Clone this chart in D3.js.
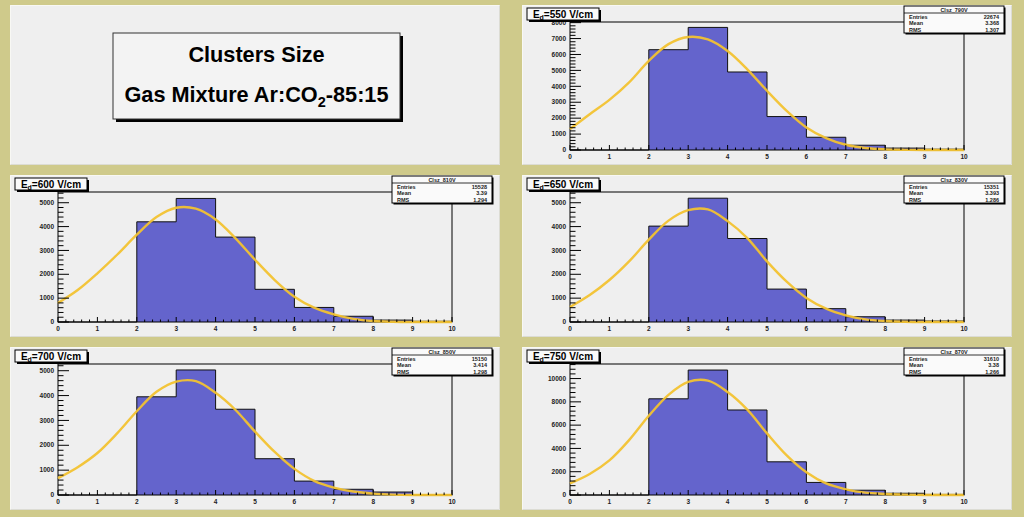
<!DOCTYPE html>
<html><head><meta charset="utf-8">
<script src="https://cdn.jsdelivr.net/npm/d3@7"></script>
<style>body{margin:0;background:#cfca8b;} svg{display:block;}</style>
</head><body><svg id="c" width="1024" height="517"></svg>
<script>
// ---------- data ----------
const titleLine1 = "Clusters Size";
const titleLine2a = "Gas Mixture Ar:CO";
const titleLine2sub = "2";
const titleLine2b = "-85:15";

const fieldLabels = ["=550 V/cm", "=600 V/cm", "=650 V/cm", "=700 V/cm", "=750 V/cm"];
const histNames = ["Clsz_790V", "Clsz_810V", "Clsz_830V", "Clsz_850V", "Clsz_870V"];
const entries = ["22674", "15528", "15351", "15150", "31610"];
const means = ["3.368", "3.39", "3.393", "3.414", "3.38"];
const rmsValues = ["1.307", "1.294", "1.286", "1.298", "1.266"];
const statLabels = ["Entries", "Mean", "RMS"];

const binStarts = [0, 1, 2, 3, 4, 5, 6, 7, 8, 9];
const counts550 = [0, 0, 6300, 7700, 4900, 2100, 800, 300, 120, 50];
const counts600 = [0, 0, 4200, 5180, 3560, 1370, 610, 240, 80, 30];
const counts650 = [0, 0, 4020, 5190, 3500, 1380, 560, 220, 80, 40];
const counts700 = [0, 0, 3950, 5030, 3450, 1460, 560, 230, 120, 10];
const counts750 = [0, 0, 8260, 10730, 7300, 2850, 1080, 410, 150, 50];

const fitX = [0, 0.5, 1, 1.5, 2, 2.5, 3, 3.5, 4, 4.5, 5, 5.5, 6, 6.5, 7, 7.5, 8, 8.5, 9, 9.5, 10];
const fit550 = [1315, 2250, 3150, 4250, 5600, 6650, 7100, 6950, 6220, 5070, 3720, 2460, 1420, 750, 330, 125, 40, 10, 0, 0, 0];
const fit600 = [800, 1340, 2040, 2820, 3660, 4400, 4790, 4750, 4300, 3520, 2610, 1760, 1060, 600, 320, 130, 40, 10, 0, 0, 0];
const fit650 = [630, 1130, 1760, 2540, 3450, 4250, 4690, 4720, 4230, 3520, 2540, 1690, 1010, 560, 280, 110, 40, 10, 0, 0, 0];
const fit700 = [680, 1120, 1690, 2480, 3370, 4150, 4560, 4580, 4110, 3430, 2550, 1730, 1050, 570, 300, 140, 55, 15, 0, 0, 0];
const fit750 = [990, 1800, 2970, 4710, 6800, 8600, 9710, 9820, 8840, 7330, 5290, 3400, 1950, 990, 490, 200, 90, 30, 0, 0, 0];

const yMax = [8040, 5450, 5450, 5270, 11250];
const yTicks550 = [0, 1000, 2000, 3000, 4000, 5000, 6000, 7000, 8000];
const yTicks600 = [0, 1000, 2000, 3000, 4000, 5000];
const yTicks650 = [0, 1000, 2000, 3000, 4000, 5000];
const yTicks700 = [0, 1000, 2000, 3000, 4000, 5000];
const yTicks750 = [0, 2000, 4000, 6000, 8000, 10000];
const xTicks = [0, 1, 2, 3, 4, 5, 6, 7, 8, 9, 10];

const countsAll = [counts550, counts600, counts650, counts700, counts750];
const fitsAll = [fit550, fit600, fit650, fit700, fit750];
const yTicksAll = [yTicks550, yTicks600, yTicks650, yTicks700, yTicks750];

// ---------- layout ----------
const FONT = "'Liberation Sans', Arial, Helvetica, sans-serif";
const colX = [10, 522];
const rowY = [5, 175, 347];
const rowH = [160, 162, 163];
const panelW = 490;
const slots = [[1, 0], [0, 1], [1, 1], [0, 2], [1, 2]];

const svg = d3.select("#c");
svg.append("rect").attr("width", 1024).attr("height", 517).attr("fill", "#cfca8b");

function drawPanel(x, y, w, h) {
  const g = svg.append("g").attr("transform", `translate(${x},${y})`);
  g.append("rect").attr("width", w).attr("height", h).attr("fill", "#efefef");
  g.append("path").attr("d", `M0.5,${h - 0.5}V0.5H${w - 0.5}`).attr("fill", "none").attr("stroke", "#f8f8f4").attr("stroke-width", 1);
  g.append("path").attr("d", `M0.5,${h - 0.5}H${w - 0.5}V0.5`).attr("fill", "none").attr("stroke", "#dcdcd4").attr("stroke-width", 1);
  return g;
}

// Title panel
{
  const g = drawPanel(colX[0], rowY[0], panelW, rowH[0]);
  const bx = 103, by = 28, bw = 287, bh = 86;
  g.append("rect").attr("x", bx + 3).attr("y", by + 3).attr("width", bw).attr("height", bh).attr("fill", "#000");
  g.append("rect").attr("x", bx).attr("y", by).attr("width", bw).attr("height", bh)
    .attr("fill", "#f3f3f3").attr("stroke", "#333").attr("stroke-width", 1);
  g.append("text").attr("x", bx + bw / 2).attr("y", 57).attr("text-anchor", "middle")
    .attr("font-family", FONT).attr("font-weight", "bold").attr("font-size", 21.7).attr("fill", "#000")
    .text(titleLine1);
  const t2 = g.append("text").attr("x", bx + bw / 2).attr("y", 97).attr("text-anchor", "middle")
    .attr("font-family", FONT).attr("font-weight", "bold").attr("font-size", 21.7).attr("fill", "#000");
  t2.append("tspan").text(titleLine2a);
  t2.append("tspan").attr("font-size", 14.5).attr("dy", 5).text(titleLine2sub);
  t2.append("tspan").attr("dy", -5).text(titleLine2b);
}

// Histogram panels
slots.forEach((s, i) => {
  const px = colX[s[0]], py = rowY[s[1]], ph = rowH[s[1]];
  const g = drawPanel(px, py, panelW, ph);
  const L = 48, R = 442, T = 17, B = ph - 15;

  const x = d3.scaleLinear().domain([0, 10]).range([L, R]);
  const y = d3.scaleLinear().domain([0, yMax[i]]).range([B, T]);

  const bins = binStarts.map((b, k) => ({ x: b, v: countsAll[i][k] }));
  bins.push({ x: 10, v: countsAll[i][countsAll[i].length - 1] });

  // filled histogram
  g.append("path").datum(bins)
    .attr("d", d3.area().curve(d3.curveStepAfter).x(d => x(d.x)).y0(y(0)).y1(d => y(d.v)))
    .attr("fill", "#6464cc");
  // outline
  g.append("path").datum(bins)
    .attr("d", d3.line().curve(d3.curveStepAfter).x(d => x(d.x)).y(d => y(d.v)))
    .attr("fill", "none").attr("stroke", "#111").attr("stroke-width", 1);

  // frame
  g.append("rect").attr("x", L).attr("y", T).attr("width", R - L).attr("height", B - T)
    .attr("fill", "none").attr("stroke", "#000").attr("stroke-width", 1);

  // fit curve
  const fit = fitX.map((fx, k) => ({ x: fx, v: fitsAll[i][k] }));
  g.append("path").datum(fit)
    .attr("d", d3.line().curve(d3.curveCatmullRom.alpha(0.5)).x(d => x(d.x)).y(d => y(Math.max(0, d.v))))
    .attr("fill", "none").attr("stroke", "#f2c230").attr("stroke-width", 2.4)
    .attr("stroke-linejoin", "round").attr("opacity", 0.95);

  // x axis ticks (inward)
  const xMinor = d3.range(0, 10.001, 0.2);
  xMinor.forEach(v => {
    const major = Math.abs(v - Math.round(v)) < 1e-6;
    g.append("line").attr("x1", x(v)).attr("x2", x(v)).attr("y1", B).attr("y2", B - (major ? 5 : 2.5))
      .attr("stroke", "#000").attr("stroke-width", 1);
  });
  g.selectAll(".xl").data(xTicks).enter().append("text")
    .attr("x", d => x(d)).attr("y", B + 9).attr("text-anchor", "middle")
    .attr("font-family", FONT).attr("font-size", 6.5).attr("font-weight", "bold").attr("fill", "#222")
    .text(d => d);

  // y axis ticks (inward)
  const yt = yTicksAll[i];
  const step = yt[1] - yt[0];
  const minorStep = step / 5;
  d3.range(0, yMax[i] + 1, minorStep).forEach(v => {
    if (y(v) < T - 0.5) return;
    const major = Math.abs(v / step - Math.round(v / step)) < 1e-6;
    g.append("line").attr("x1", L).attr("x2", L + (major ? 11 : 5.5)).attr("y1", y(v)).attr("y2", y(v))
      .attr("stroke", "#000").attr("stroke-width", 1);
  });
  g.selectAll(".yl").data(yt).enter().append("text")
    .attr("x", L - 4).attr("y", d => y(d) + 2.2).attr("text-anchor", "end")
    .attr("font-family", FONT).attr("font-size", 6.5).attr("font-weight", "bold").attr("fill", "#222")
    .text(d => d);

  // label box "E_d=..."
  const lx = 5, ly = 3, lw = 72, lh = 12;
  g.append("rect").attr("x", lx + 2).attr("y", ly + 2).attr("width", lw).attr("height", lh).attr("fill", "#000");
  g.append("rect").attr("x", lx).attr("y", ly).attr("width", lw).attr("height", lh)
    .attr("fill", "#fafafa").attr("stroke", "#000").attr("stroke-width", 1);
  const lt = g.append("text").attr("x", lx + lw / 2).attr("y", ly + 9.5).attr("text-anchor", "middle")
    .attr("font-family", FONT).attr("font-weight", "bold").attr("font-size", 10).attr("fill", "#000");
  lt.append("tspan").text("E");
  lt.append("tspan").attr("font-size", 7).attr("dy", 2.5).text("d");
  lt.append("tspan").attr("dy", -2.5).text(fieldLabels[i]);

  // stats box
  const sx = 382, sy = 1, sw = 100, sh = 27;
  g.append("rect").attr("x", sx + 1.5).attr("y", sy + 1.5).attr("width", sw).attr("height", sh).attr("fill", "#000");
  g.append("rect").attr("x", sx).attr("y", sy).attr("width", sw).attr("height", sh)
    .attr("fill", "#fafafa").attr("stroke", "#000").attr("stroke-width", 1);
  g.append("line").attr("x1", sx).attr("x2", sx + sw).attr("y1", sy + 7).attr("y2", sy + 7)
    .attr("stroke", "#000").attr("stroke-width", 0.8);
  g.append("text").attr("x", sx + sw / 2).attr("y", sy + 5.6).attr("text-anchor", "middle")
    .attr("font-family", FONT).attr("font-size", 5.5).attr("font-weight", "bold").attr("fill", "#222")
    .text(histNames[i]);
  const vals = [entries[i], means[i], rmsValues[i]];
  statLabels.forEach((lab, k) => {
    const yy = sy + 12.5 + k * 6.6;
    g.append("text").attr("x", sx + 5).attr("y", yy)
      .attr("font-family", FONT).attr("font-size", 5.5).attr("font-weight", "bold").attr("fill", "#222").text(lab);
    g.append("text").attr("x", sx + sw - 5).attr("y", yy).attr("text-anchor", "end")
      .attr("font-family", FONT).attr("font-size", 5.5).attr("font-weight", "bold").attr("fill", "#222").text(vals[k]);
  });
});
</script>
</body></html>
